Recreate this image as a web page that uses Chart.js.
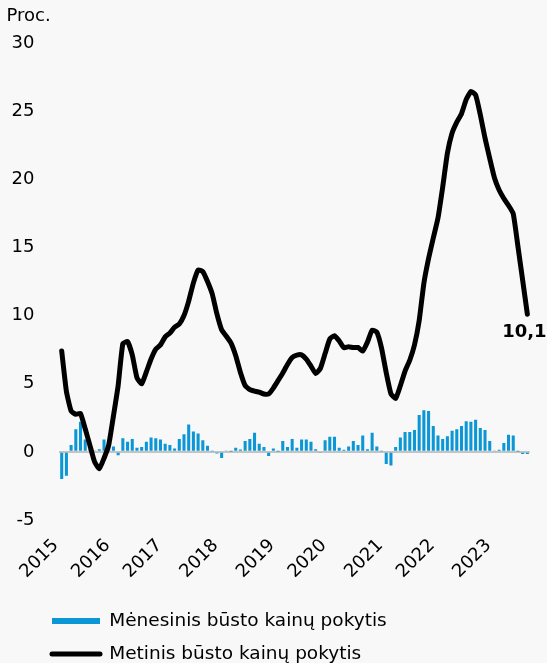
<!DOCTYPE html>
<html><head><meta charset="utf-8">
<script src="https://cdn.jsdelivr.net/npm/chart.js@4.4.1/dist/chart.umd.min.js"></script>
<style>html,body{margin:0;padding:0;background:#f8f8f8}#wrap{position:relative;width:547px;height:663px}</style>
</head><body><div id="wrap"><canvas id="c"></canvas></div>
<script>
// Categories: 100 monthly observations
const months = [];
for (let y = 2015; y <= 2023; y++) for (let m = 1; m <= 12; m++) if (months.length < 100) months.push(y + '-' + String(m).padStart(2, '0'));

const yearLabels = ['2015','2016','2017','2018','2019','2020','2021','2022','2023'];
const yearTickIndex = [0, 11, 22, 34, 46, 57, 69, 80, 92];

const seriesNames = ['Mėnesinis būsto kainų pokytis', 'Metinis būsto kainų pokytis'];
const yAxisTitle = 'Proc.';

const monthlyChange = [
  -2.0, -1.75, 0.5, 1.65, 2.2, 0.9, 0.2, 0.1, 0.2, 0.9,
  0.5, 0.4, -0.25, 1.0, 0.75, 0.95, 0.3, 0.35, 0.75, 1.05,
  1.0, 0.9, 0.6, 0.5, 0.25, 0.95, 1.3, 2.0, 1.5, 1.35,
  0.85, 0.45, 0.05, -0.12, -0.45, 0.1, 0.03, 0.3, 0.18, 0.8,
  0.95, 1.4, 0.6, 0.35, -0.3, 0.25, 0.03, 0.8, 0.35, 0.95,
  0.3, 0.9, 0.9, 0.75, 0.2, -0.05, 0.85, 1.1, 1.1, 0.3,
  0.15, 0.4, 0.8, 0.5, 1.2, 0.2, 1.4, 0.4, 0.05, -0.9,
  -1.0, 0.35, 1.05, 1.45, 1.45, 1.6, 2.7, 3.05, 3.0, 1.9,
  1.2, 0.95, 1.15, 1.55, 1.65, 1.9, 2.25, 2.2, 2.35, 1.75,
  1.6, 0.8, 0.07, 0.15, 0.65, 1.25, 1.2, 0.03, -0.15, -0.15
];

const annualChange = [
  7.4, 4.44, 3.0, 2.75, 2.81, 1.69, 0.48, -0.74, -1.24, -0.47,
  0.51, 2.63, 4.86, 7.94, 8.09, 7.12, 5.44, 4.99, 5.87, 6.81,
  7.54, 7.85, 8.44, 8.72, 9.14, 9.38, 10.0, 11.06, 12.4, 13.34,
  13.23, 12.5, 11.59, 10.12, 8.96, 8.48, 7.98, 7.06, 5.83, 4.87,
  4.56, 4.46, 4.38, 4.24, 4.25, 4.68, 5.23, 5.79, 6.41, 6.92,
  7.1, 7.12, 6.81, 6.29, 5.75, 6.13, 7.21, 8.28, 8.52, 8.14,
  7.64, 7.71, 7.65, 7.66, 7.4, 8.05, 8.93, 8.78, 7.61, 5.8,
  4.26, 3.92, 4.85, 5.93, 6.72, 7.84, 9.63, 12.37, 14.18, 15.69,
  17.16, 19.43, 21.91, 23.39, 24.19, 24.81, 25.85, 26.44, 26.19, 24.73,
  23.02, 21.53, 20.11, 19.21, 18.59, 18.08, 17.47, 15.07, 12.6, 10.1
];

const BLUE = '#0b97d6';
const BG = '#f8f8f8';

Chart.defaults.font.family = '"DejaVu Sans", Verdana, sans-serif';
Chart.defaults.font.size = 18;
Chart.defaults.color = '#000';

const bgPlugin = {
  id: 'bg',
  beforeDraw(chart) {
    const ctx = chart.ctx;
    ctx.save(); ctx.fillStyle = BG; ctx.fillRect(0, 0, chart.width, chart.height); ctx.restore();
  }
};

const legendShift = {
  id: 'legendShift',
  afterLayout(chart) {
    const lg = chart.legend;
    if (!lg) return;
    const dx = 31, dy = 10.25;
    lg.left += dx; lg.right += dx; lg.top += dy; lg.bottom += dy;
  }
};

const endLabel = {
  id: 'endLabel',
  afterDatasetsDraw(chart) {
    const meta = chart.getDatasetMeta(1);
    const pts = meta.data;
    const last = pts[pts.length - 1];
    const v = annualChange[annualChange.length - 1];
    const ctx = chart.ctx;
    ctx.save();
    ctx.font = 'bold 18px "DejaVu Sans", Verdana, sans-serif';
    ctx.fillStyle = '#000';
    ctx.textAlign = 'center';
    ctx.textBaseline = 'middle';
    ctx.fillText(String(v).replace('.', ','), last.x - 3, last.y + 18);
    ctx.restore();
  }
};

new Chart(document.getElementById('c'), {
  data: {
    labels: months,
    datasets: [
      {
        type: 'bar', label: seriesNames[0], data: monthlyChange,
        backgroundColor: BLUE, borderWidth: 0,
        barPercentage: 0.65, categoryPercentage: 1.0, order: 1
      },
      {
        type: 'line', label: seriesNames[1], data: annualChange,
        borderColor: '#000', borderWidth: 5, pointRadius: 0, tension: 0.15,
        borderJoinStyle: 'round', borderCapStyle: 'round', fill: false, order: 0
      }
    ]
  },
  options: {
    responsive: true, maintainAspectRatio: false, animation: false, events: [],
    layout: { padding: { left: 6.5, right: 17.3, top: 0, bottom: 0 } },
    scales: {
      x: {
        offset: true,
        grid: { display: false, drawTicks: false },
        border: { display: false },
        ticks: {
          autoSkip: false, minRotation: 45, maxRotation: 45, padding: 15, labelOffset: -6,
          color: '#000', font: { size: 18 },
          callback: (v, i) => { const k = yearTickIndex.indexOf(i); return k >= 0 ? yearLabels[k] : ''; }
        },
        afterFit: s => { s.height = 67; s.paddingLeft = 0; s.paddingRight = 0; }
      },
      y: {
        min: -5, max: 30,
        ticks: { stepSize: 5, padding: 25, color: '#000', font: { size: 18 } },
        grid: {
          drawTicks: false, lineWidth: 2,
          color: c => (c.tick && c.tick.value === 0) ? '#c4c4c4' : 'rgba(0,0,0,0)'
        },
        border: { display: false },
        afterFit: s => { s.width = 52.85; }
      }
    },
    plugins: {
      title: {
        display: true, text: yAxisTitle, align: 'start', color: '#000',
        font: { size: 18, weight: 'normal' }, padding: { top: 6, bottom: 15.4 }
      },
      legend: {
        position: 'bottom', align: 'start',
        labels: {
          usePointStyle: true, pointStyleWidth: 48, boxHeight: 6, padding: 14.5,
          color: '#000', font: { size: 18.5 },
          generateLabels: () => [
            { text: seriesNames[0], fillStyle: BLUE, strokeStyle: BLUE, lineWidth: 0, pointStyle: 'rect', hidden: false, datasetIndex: 0 },
            { text: seriesNames[1], fillStyle: '#000', strokeStyle: '#000', lineWidth: 5, lineCap: 'round', pointStyle: 'line', hidden: false, datasetIndex: 1 }
          ]
        }
      },
      tooltip: { enabled: false }
    }
  },
  plugins: [bgPlugin, legendShift, endLabel]
});
</script>
</body></html>
